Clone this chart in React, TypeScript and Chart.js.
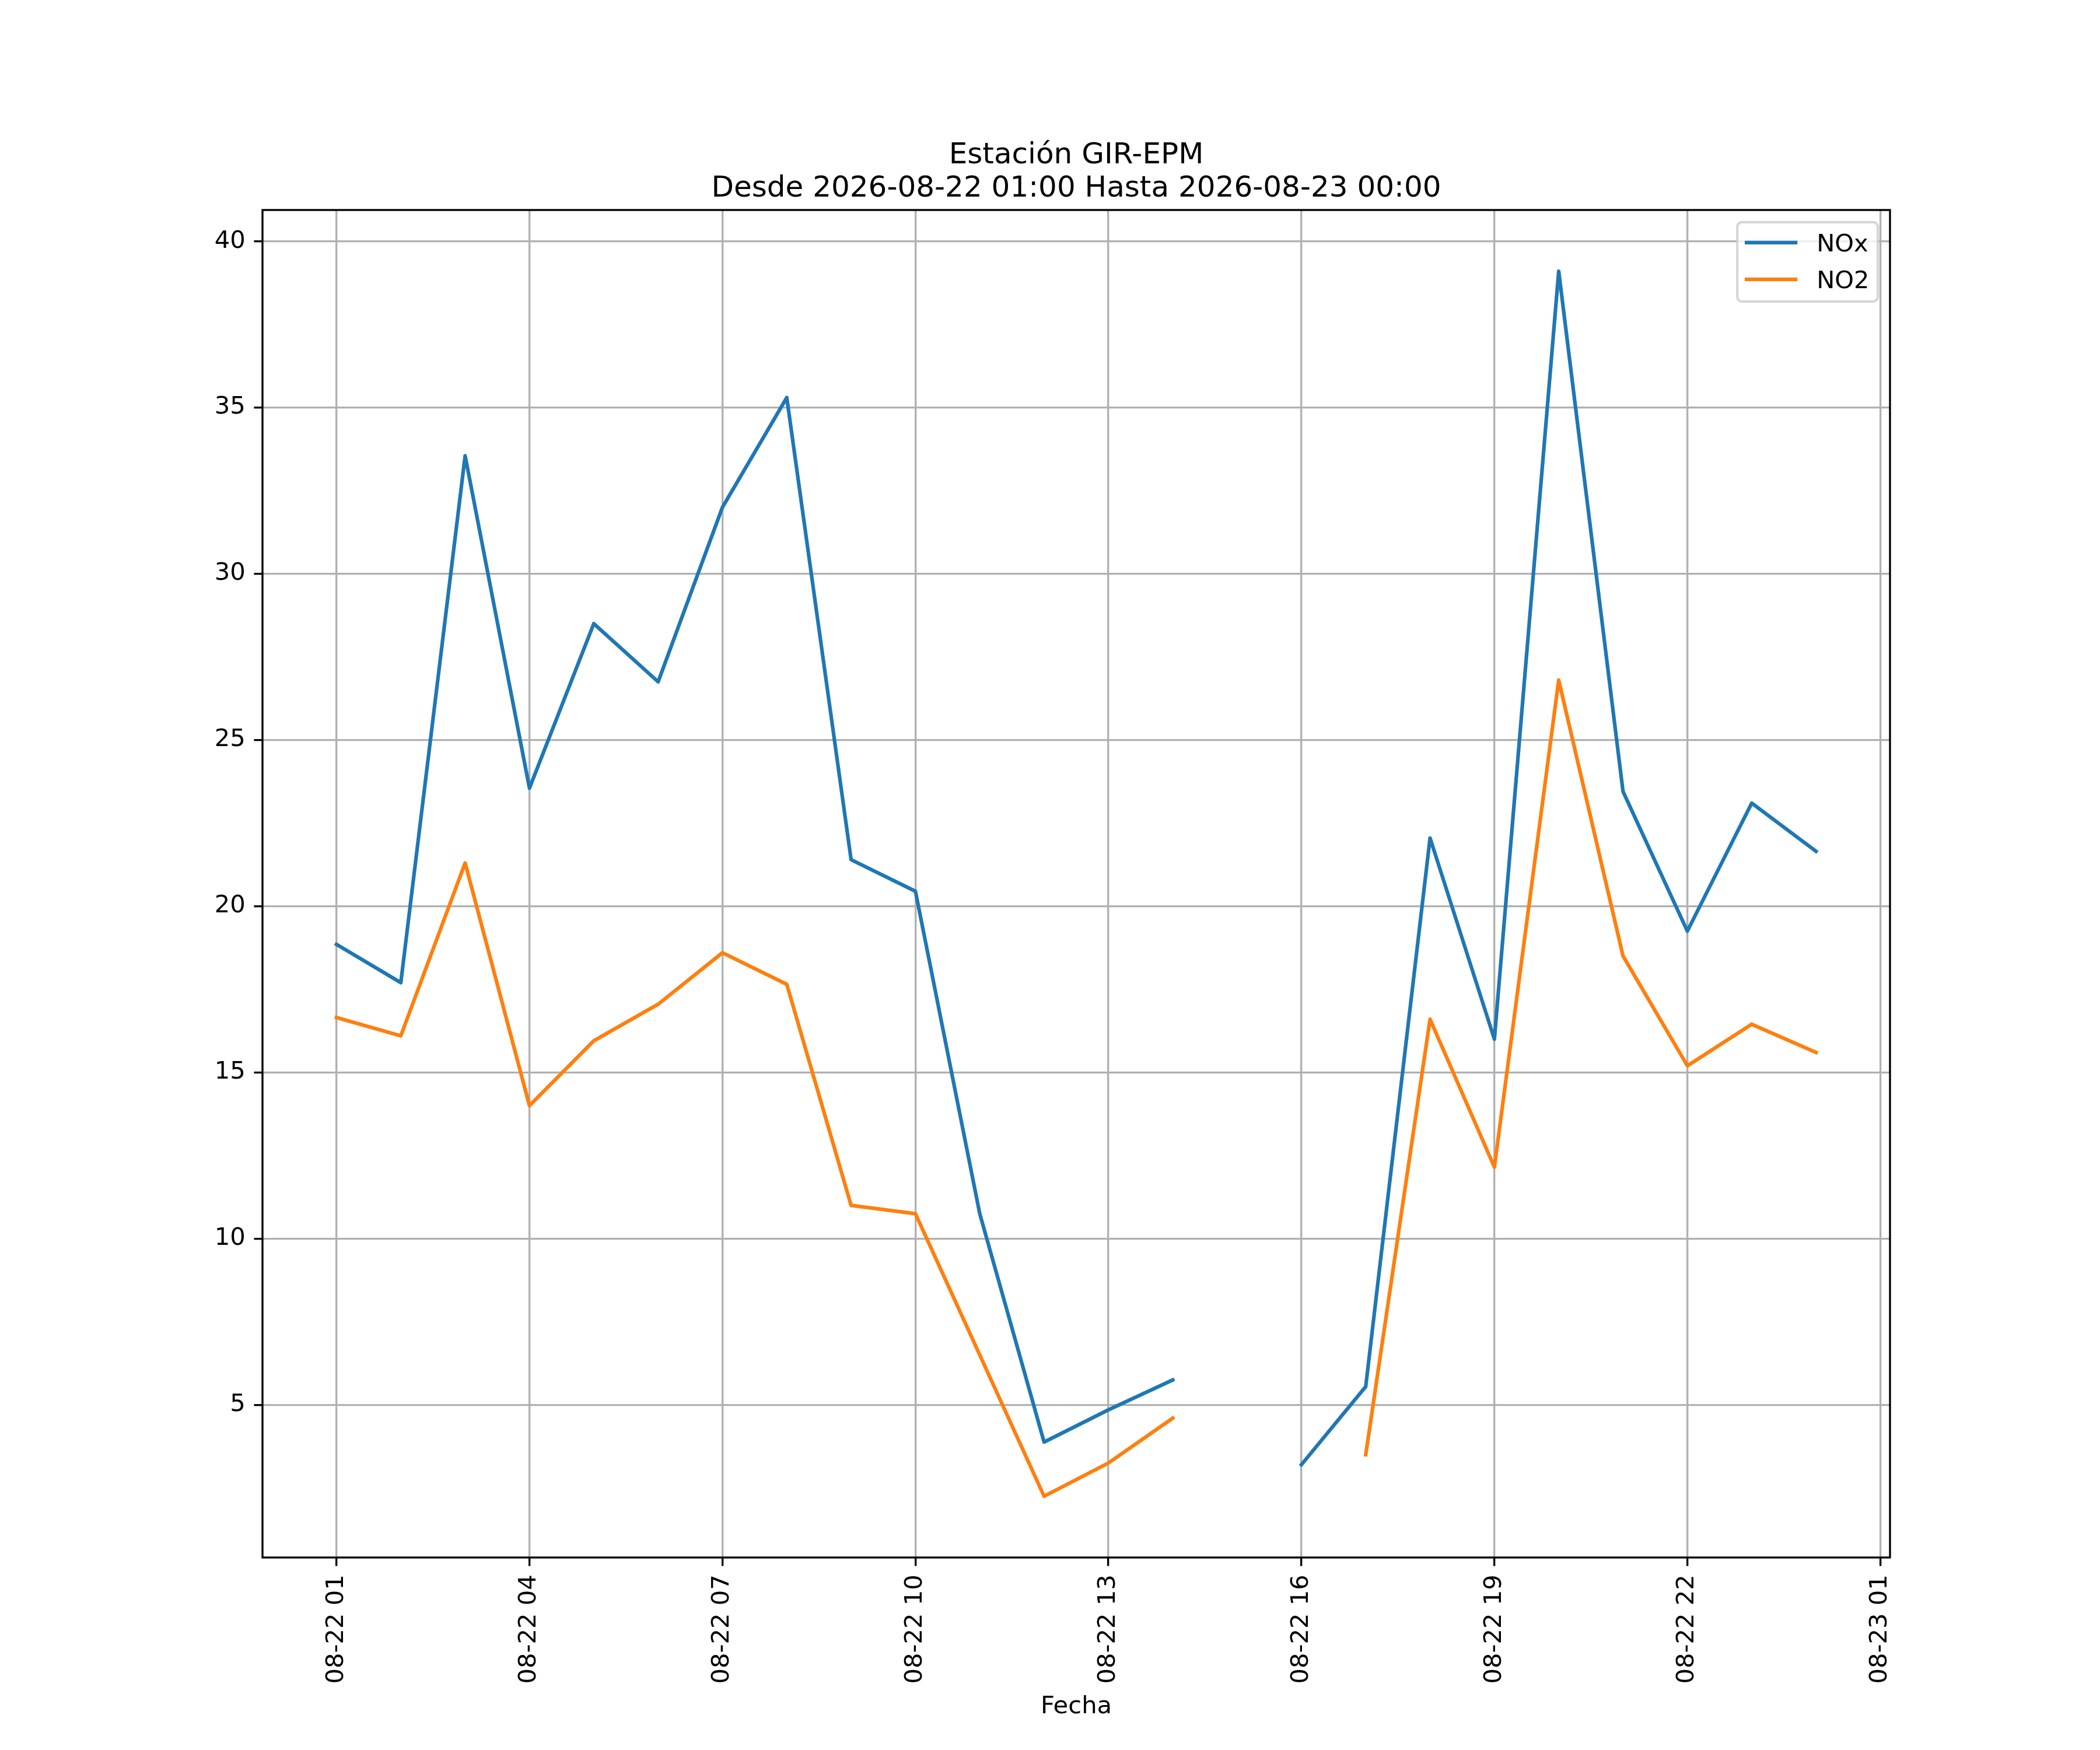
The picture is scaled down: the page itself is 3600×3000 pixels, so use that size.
import React, { useEffect, useRef } from 'react';
import { Chart, registerables } from 'chart.js';

Chart.register(...registerables);

// hours of 2026-08-22 (24 = 08-23 00:00)
const hours = [1, 2, 3, 4, 5, 6, 7, 8, 9, 10, 11, 12, 13, 14, 15, 16, 17, 18, 19, 20, 21, 22, 23, 24];
const noxValues = [18.85, 17.7, 33.55, 23.55, 28.5, 26.75, 32.0, 35.3, 21.4, 20.45, 10.75, 3.88, 4.85, 5.75, null, 3.2, 5.55, 22.05, 16.0, 39.1, 23.45, 19.25, 23.1, 21.65];
const no2Values = [16.65, 16.1, 21.3, 14.0, 15.95, 17.05, 18.6, 17.65, 11.0, 10.75, 6.5, 2.25, 3.25, 4.6, null, null, 3.5, 16.6, 12.15, 26.8, 18.5, 15.2, 16.45, 15.6];
const xTickHours = [1, 4, 7, 10, 13, 16, 19, 22, 25];
const yTickValues = [5, 10, 15, 20, 25, 30, 35, 40];
const titleLines = ['Estación GIR-EPM', 'Desde 2026-08-22 01:00 Hasta 2026-08-23 00:00'];
const xAxisLabel = 'Fecha';

const FONT = 'DejaVu Sans';
const PT = 300 / 72;

const hourLabel = (h: number) => {
  const day = 22 + Math.floor(h / 24);
  const hh = h % 24;
  return `08-${day} ${String(hh).padStart(2, '0')}`;
};

// matplotlib style 5% margins
const margins = (vals: (number | null)[]) => {
  const v = vals.filter((x): x is number => x !== null);
  const lo = Math.min(...v);
  const hi = Math.max(...v);
  const pad = (hi - lo) * 0.05;
  return [lo - pad, hi + pad];
};

const framePlugin = {
  id: 'mplFrame',
  afterDatasetsDraw(chart: any) {
    const { ctx, chartArea: a } = chart;
    ctx.save();
    ctx.strokeStyle = '#000';
    ctx.lineWidth = 0.8 * PT;
    ctx.strokeRect(a.left, a.top, a.right - a.left, a.bottom - a.top);
    ctx.restore();
  },
  afterDraw(chart: any) {
    const { ctx, chartArea: a } = chart;
    const cx = (a.left + a.right) / 2;
    ctx.save();
    ctx.fillStyle = '#000';
    ctx.textAlign = 'center';
    ctx.textBaseline = 'alphabetic';
    ctx.font = `${12 * PT}px "${FONT}"`;
    ctx.fillText(titleLines[0], cx, a.top - 80);
    ctx.fillText(titleLines[1], cx, a.top - 23);
    ctx.font = `${10 * PT}px "${FONT}"`;
    ctx.fillText(xAxisLabel, cx, 2937);

    // legend, upper right
    const fs = 10 * PT;
    const w = 241;
    const h = 136;
    const x0 = a.right - 0.5 * fs - w;
    const y0 = a.top + 0.5 * fs;
    const r = 8;
    ctx.beginPath();
    ctx.moveTo(x0 + r, y0);
    ctx.arcTo(x0 + w, y0, x0 + w, y0 + h, r);
    ctx.arcTo(x0 + w, y0 + h, x0, y0 + h, r);
    ctx.arcTo(x0, y0 + h, x0, y0, r);
    ctx.arcTo(x0, y0, x0 + w, y0, r);
    ctx.closePath();
    ctx.fillStyle = 'rgba(255,255,255,0.8)';
    ctx.fill();
    ctx.strokeStyle = 'rgba(204,204,204,0.8)';
    ctx.lineWidth = PT;
    ctx.stroke();
    ctx.textAlign = 'left';
    ctx.font = `${fs}px "${FONT}"`;
    chart.data.datasets.forEach((ds: any, i: number) => {
      const ly = y0 + 35 + i * 63;
      ctx.beginPath();
      ctx.moveTo(x0 + 16, ly);
      ctx.lineTo(x0 + 100, ly);
      ctx.strokeStyle = ds.borderColor;
      ctx.lineWidth = 1.5 * PT;
      ctx.lineCap = 'square';
      ctx.stroke();
      ctx.fillStyle = '#000';
      ctx.fillText(ds.label, x0 + 136, ly + 15);
    });
    ctx.restore();
  },
};

const App: React.FC = () => {
  const canvasRef = useRef<HTMLCanvasElement>(null);

  useEffect(() => {
    document.body.style.margin = '0';
    if (!canvasRef.current) return;
    const [xMin, xMax] = margins(hours);
    const [yMin, yMax] = margins([...noxValues, ...no2Values]);

    const tickFont = { family: FONT, size: 10 * PT };
    const grid = {
      color: '#b0b0b0',
      lineWidth: 0.8 * PT,
      tickColor: '#000',
      tickWidth: 0.8 * PT,
      tickLength: 3.5 * PT,
    };

    const chart = new Chart(canvasRef.current, {
      type: 'line',
      data: {
        datasets: [
          {
            label: 'NOx',
            data: hours.map((h, i) => ({ x: h, y: noxValues[i] })),
            borderColor: '#1f77b4',
          },
          {
            label: 'NO2',
            data: hours.map((h, i) => ({ x: h, y: no2Values[i] })),
            borderColor: '#ff7f0e',
          },
        ] as any,
      },
      options: {
        responsive: false,
        devicePixelRatio: 1,
        animation: false,
        layout: { padding: { top: 360, right: 360, left: 0, bottom: 0 } },
        elements: {
          line: {
            borderWidth: 1.5 * PT,
            tension: 0,
            borderJoinStyle: 'round',
            borderCapStyle: 'square',
          },
          point: { radius: 0 },
        },
        scales: {
          x: {
            type: 'linear',
            min: xMin,
            max: xMax,
            grid,
            border: { display: false },
            afterBuildTicks: (scale: any) => {
              scale.ticks = xTickHours.map((v) => ({ value: v }));
            },
            afterFit: (scale: any) => {
              scale.height = 330;
            },
            ticks: {
              autoSkip: false,
              minRotation: 90,
              maxRotation: 90,
              padding: 3.5 * PT,
              color: '#000',
              font: tickFont,
              callback: (v: any) => hourLabel(Number(v)),
            },
          },
          y: {
            type: 'linear',
            min: yMin,
            max: yMax,
            grid,
            border: { display: false },
            afterBuildTicks: (scale: any) => {
              scale.ticks = yTickValues.map((v) => ({ value: v }));
            },
            afterFit: (scale: any) => {
              scale.width = 450;
            },
            ticks: {
              padding: 3.5 * PT,
              color: '#000',
              font: tickFont,
              callback: (v: any) => String(v),
            },
          },
        },
        plugins: {
          legend: { display: false },
          title: { display: false },
          tooltip: { enabled: false },
        },
      },
      plugins: [framePlugin],
    });

    return () => {
      chart.destroy();
    };
  }, []);

  return (
    <div style={{ width: 3600, height: 3000, background: '#fff' }}>
      <canvas ref={canvasRef} width={3600} height={3000} style={{ width: 3600, height: 3000 }} />
    </div>
  );
};

export default App;
